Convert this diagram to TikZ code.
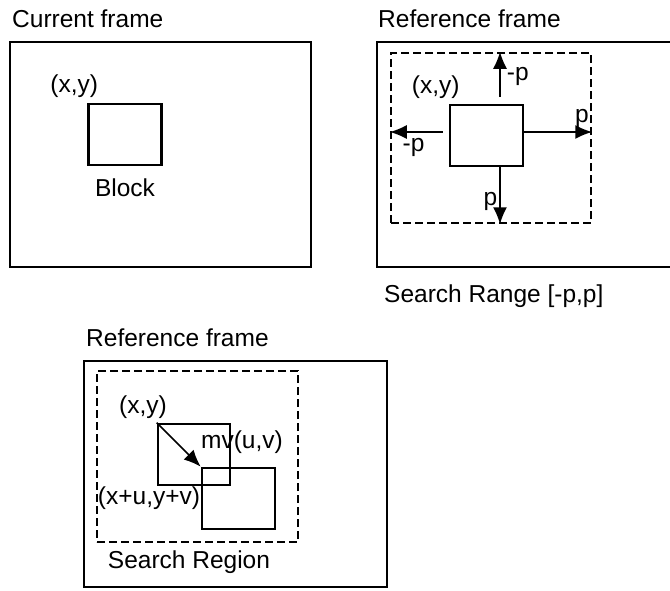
\documentclass[tikz,border=0pt]{standalone}
\usepackage{fontspec}
\setmainfont{Liberation Sans}
\usepackage{tikz}
\usetikzlibrary{calc,positioning,arrows.meta}

\begin{document}
\begin{tikzpicture}[x=1pt, y=-1pt,
    every node/.style={inner sep=0pt},
    lbl/.style={font=\fontsize{24.5}{28}\selectfont},
    frame/.style={draw, line width=2.8pt},
    blockbox/.style={draw, line width=2.6pt, minimum width=73pt, minimum height=61pt},
    searchbox/.style={draw, line width=2.5pt, dash pattern=on 8pt off 4pt},
    mvarrow/.style={line width=1.7pt, -{Latex[length=17pt, width=14pt]}} ]

    \useasboundingbox (0,0) rectangle (670,590);

    % Current frame
    \node[frame, minimum width=301pt, minimum height=225pt] (cur) at (160.5,154.5) {};
    \node[lbl, anchor=base west] (curtitle) at (12,27) {Current frame};
    \node[blockbox] (blk) at (125,134.5) {};
    \node[lbl, anchor=south east] (blkxy) at ([shift={(11,-5)}]blk.north west) {(x,y)};
    \node[lbl, below=12pt of blk] (blkname) {Block};

    % Reference frame, search range
    \node[frame, minimum width=295pt, minimum height=225pt] (ref) at (524.5,154.5) {};
    \node[lbl, anchor=base west] (reftitle) at (378,27) {Reference frame};
    \node[searchbox, minimum width=200pt, minimum height=170pt] (srch) at (491,138) {};
    \node[blockbox] (rblk) at (486.5,135.5) {};
    \node[lbl, anchor=south east] (rblkxy) at ([shift={(11,-5)}]rblk.north west) {(x,y)};

    \draw[mvarrow] ([shift={(13.5,-7)}]rblk.north) -- ([xshift=13.5pt]rblk.north |- srch.north)
        node[lbl, pos=0.45, right=6pt] (mup) {-p};
    \draw[mvarrow] ([xshift=13.5pt]rblk.south) -- ([xshift=13.5pt]rblk.south |- srch.south)
        node[lbl, pos=0.6, left=2pt] (pdown) {p};
    \draw[mvarrow] ([shift={(-6,-3.5)}]rblk.west) -- ([yshift=3.5pt]rblk.west -| srch.west)
        node[lbl, pos=0.55, below=5pt] (mleft) {-p};
    \draw[mvarrow] ([yshift=3.5pt]rblk.east) -- ([yshift=3.5pt]rblk.east -| srch.east)
        node[lbl, pos=0.85, above=4pt] (pright) {p};

    \node[lbl, anchor=base west] (range) at (384,302) {Search Range [-p,p]};

    % Reference frame, motion vector
    \node[frame, minimum width=303pt, minimum height=226pt] (ref2) at (235.5,474) {};
    \node[lbl, anchor=base west] (ref2title) at (86,346) {Reference frame};
    \node[searchbox, minimum width=201pt, minimum height=171pt] (srch2) at (197.5,456.5) {};
    \node[blockbox, minimum width=72pt] (oblk) at (194,454.5) {};
    \node[blockbox] (mblk) at (238.5,498.5) {};
    \draw[mvarrow] (oblk.north west) -- (mblk.north west);
    \node[lbl, anchor=center] (oxy) at (143,407) {(x,y)};
    \node[lbl, anchor=center] (mv) at (242,442) {mv(u,v)};
    \node[lbl, anchor=center] (mxy) at (149,498) {(x+u,y+v)};
    \node[lbl, anchor=center] (region) at (189,562) {Search Region};

\end{tikzpicture}
\end{document}
